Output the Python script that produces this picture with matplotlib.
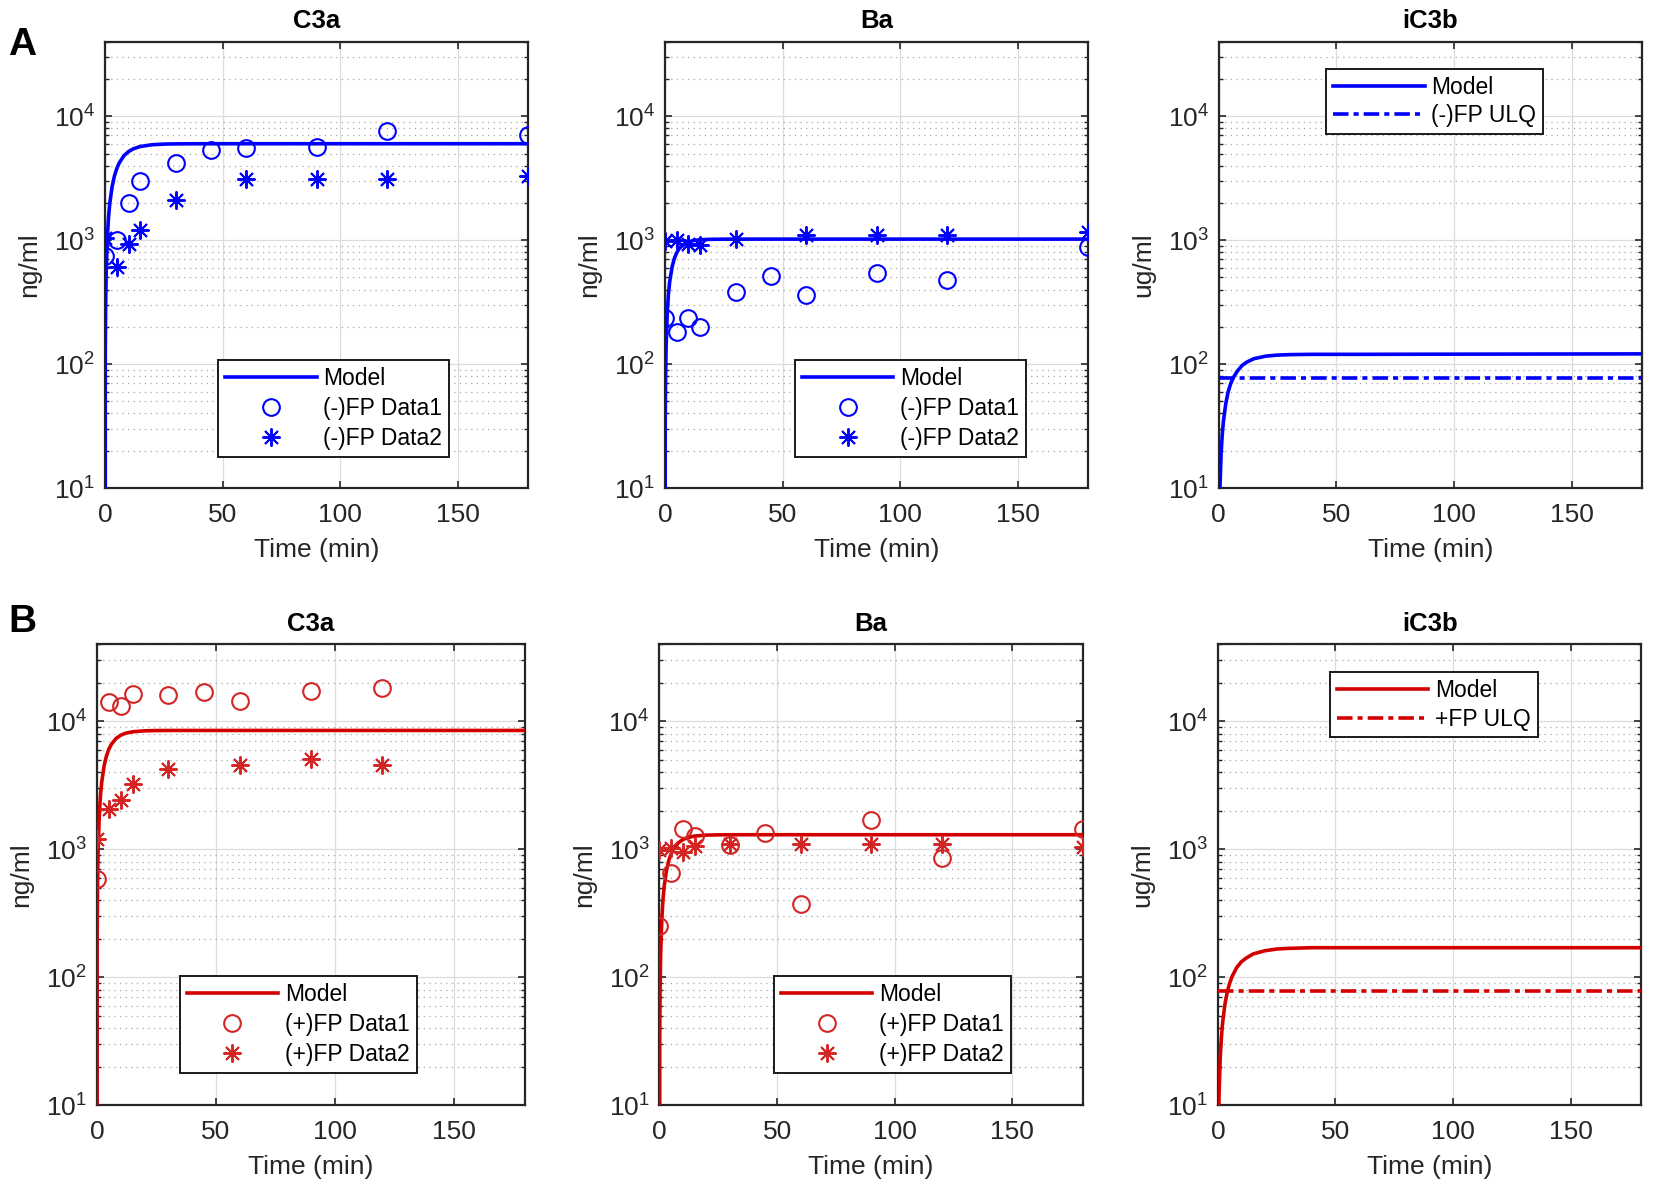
import matplotlib.pyplot as plt
import numpy as np
from matplotlib.ticker import LogLocator, NullFormatter, FixedLocator

plt.rcParams['font.family'] = ['Liberation Sans', 'DejaVu Sans']
plt.rcParams['mathtext.fontset'] = 'custom'
plt.rcParams['mathtext.rm'] = 'Liberation Sans'
plt.rcParams['mathtext.it'] = 'Liberation Sans:italic'
plt.rcParams['mathtext.bf'] = 'Liberation Sans:bold'

# model time grid (min)
t_model = [0, 0.1, 0.25, 0.5, 1, 1.5, 2, 3, 4, 5, 6, 8, 10, 12, 15, 20, 25, 30, 40, 60, 180]

# ---- A: (-)FP ----
c3a_neg_model = [0, 120, 296, 571, 1088, 1555, 1978, 2707, 3304, 3793, 4193, 4797, 5188, 5459,
                 5701, 5890, 5960, 5985, 5998, 6000, 6000]
c3a_neg_t1 = [0, 5, 10, 15, 30, 45, 60, 90, 120, 180]
c3a_neg_d1 = [750, 1000, 2000, 3000, 4200, 5350, 5500, 5600, 7600, 7000]
c3a_neg_t2 = [0, 5, 10, 15, 30, 60, 90, 120, 180]
c3a_neg_d2 = [1050, 610, 940, 1210, 2100, 3100, 3100, 3100, 3270]

ba_neg_model = [0, 30, 73, 141, 264, 371, 460, 605, 713, 792, 854, 929, 969, 992,
                1009, 1017, 1019, 1020, 1020, 1020, 1020]
ba_neg_t1 = [0, 5, 10, 15, 30, 45, 60, 90, 120, 180]
ba_neg_d1 = [235, 180, 235, 200, 385, 515, 360, 540, 480, 880]
ba_neg_t2 = [0, 5, 10, 15, 30, 60, 90, 120, 180]
ba_neg_d2 = [980, 1000, 940, 910, 1030, 1110, 1110, 1110, 1170]

ic3b_neg_model = [0, 2.0, 5.0, 9.8, 18.8, 27.0, 34.6, 48.0, 59.7, 68.9, 76.8, 88.3, 97.8, 104.0,
                  110.7, 116.0, 118.3, 119.3, 120, 120, 121]
ulq_neg = 78

# ---- B: (+)FP ----
c3a_pos_model = [0, 210, 517, 1000, 1880, 2660, 3345, 4485, 5373, 6060, 6600, 7350, 7800, 8080,
                 8300, 8440, 8485, 8496, 8500, 8500, 8500]
c3a_pos_t1 = [0, 5, 10, 15, 30, 45, 60, 90, 120]
c3a_pos_d1 = [590, 14300, 13100, 16400, 16100, 17000, 14500, 17200, 18400]
c3a_pos_t2 = [0, 5, 10, 15, 30, 60, 90, 120]
c3a_pos_d2 = [1200, 2070, 2440, 3260, 4220, 4550, 5110, 4550]

ba_pos_model = [0, 32, 79, 153, 288, 407, 512, 686, 822, 927, 1010, 1124, 1193, 1235,
                1270, 1291, 1297, 1299, 1300, 1300, 1300]
ba_pos_t1 = [0, 5, 10, 15, 30, 45, 60, 90, 120, 180]
ba_pos_d1 = [250, 655, 1450, 1280, 1090, 1340, 375, 1690, 860, 1450]
ba_pos_t2 = [0, 5, 10, 15, 30, 60, 90, 120, 180]
ba_pos_d2 = [990, 1030, 960, 1070, 1100, 1100, 1100, 1100, 1050]

ic3b_pos_model = [0, 2.5, 6.3, 12.3, 23.7, 34.0, 44.1, 61.5, 76.7, 89.7, 101, 119, 132, 141,
                  152, 161, 166, 168, 170, 170, 170]
ulq_pos = 78

BLUE = '#0000ff'
RED = '#d40000'
RED_MK = '#d42525'
ASTER = (8, 2, 0)
DASHDOT = (0, (4.3, 1.4, 1.4, 1.4))
FS = 19


def style_axes(ax, title, ylabel):
    ax.set_yscale('log', nonpositive='clip')
    ax.set_xlim(0, 180)
    ax.set_ylim(10, 4e4)
    ax.set_xticks([0, 50, 100, 150])
    ax.yaxis.set_major_locator(FixedLocator([10, 100, 1000, 10000]))
    ax.yaxis.set_minor_locator(LogLocator(base=10, subs=np.arange(2, 10)))
    ax.yaxis.set_minor_formatter(NullFormatter())
    ax.grid(True, which='major', color='#dcdcdc', lw=0.9, ls='-', zorder=0)
    ax.grid(True, which='minor', axis='y', color='#a8a8a8', lw=0.9, ls=(0, (1, 3.5)), zorder=0)
    ax.set_axisbelow(True)
    ax.tick_params(which='both', direction='in', top=True, right=True, labelsize=FS,
                   colors='#262626', labelcolor='#262626')
    ax.tick_params(which='major', length=5, width=1.2)
    ax.tick_params(axis='x', which='major', pad=11)
    ax.tick_params(axis='y', which='major', pad=7)
    ax.tick_params(which='minor', length=3, width=1.0)
    for s in ax.spines.values():
        s.set_color('#262626')
        s.set_linewidth(1.6)
    ax.set_title(title, fontsize=18.5, fontweight='bold', pad=10)
    ax.set_ylabel(ylabel, fontsize=FS, color='#262626', labelpad=9)
    ax.set_xlabel('Time (min)', fontsize=FS, color='#262626', labelpad=8)


def data_panel(ax, title, model, t1, d1, t2, d2, color, mcolor, tag, leg_x):
    ax.plot(t_model, model, color=color, lw=2.6, label='Model', zorder=3)
    ax.plot(t1, d1, ls='none', marker='o', ms=12, mfc='none', mec=mcolor, mew=1.5,
            label=f'{tag}FP Data1', zorder=4)
    ax.plot(t2, d2, ls='none', marker=ASTER, ms=13, mec=mcolor, mfc=mcolor, mew=1.4,
            label=f'{tag}FP Data2', zorder=4)
    style_axes(ax, title, 'ng/ml')
    ax.legend(loc='lower center', bbox_to_anchor=(leg_x, 0.045), fontsize=16.5,
              handlelength=4.0, handletextpad=0.3, labelspacing=0.3, borderpad=0.3,
              fancybox=False, framealpha=1, edgecolor='#1a1a1a').get_frame().set_linewidth(1.4)


def ulq_panel(ax, model, ulq, color, ulq_label):
    ax.plot(t_model, model, color=color, lw=2.6, label='Model', zorder=3)
    ax.axhline(ulq, color=color, lw=2.6, ls=DASHDOT, label=ulq_label, zorder=3)
    style_axes(ax, 'iC3b', 'ug/ml')
    ax.legend(loc='upper center', bbox_to_anchor=(0.51, 0.965), fontsize=16.5,
              handlelength=4.0, handletextpad=0.3, labelspacing=0.25, borderpad=0.3,
              fancybox=False, framealpha=1, edgecolor='#1a1a1a').get_frame().set_linewidth(1.4)


fig = plt.figure(figsize=(16.57, 11.89), dpi=100)

w = 0.2555
rowA_y, rowA_h = 0.5895, 0.3755
rowB_y, rowB_h = 0.0706, 0.3874

axA1 = fig.add_axes([0.0634, rowA_y, w, rowA_h])
axA2 = fig.add_axes([0.4013, rowA_y, w, rowA_h])
axA3 = fig.add_axes([0.7355, rowA_y, w, rowA_h])
axB1 = fig.add_axes([0.0585, rowB_y, w + 0.003, rowB_h])
axB2 = fig.add_axes([0.3980, rowB_y, w, rowB_h])
axB3 = fig.add_axes([0.7350, rowB_y, w, rowB_h])

data_panel(axA1, 'C3a', c3a_neg_model, c3a_neg_t1, c3a_neg_d1, c3a_neg_t2, c3a_neg_d2,
           BLUE, BLUE, '(-)', 0.54)
data_panel(axA2, 'Ba', ba_neg_model, ba_neg_t1, ba_neg_d1, ba_neg_t2, ba_neg_d2,
           BLUE, BLUE, '(-)', 0.58)
ulq_panel(axA3, ic3b_neg_model, ulq_neg, BLUE, '(-)FP ULQ')

data_panel(axB1, 'C3a', c3a_pos_model, c3a_pos_t1, c3a_pos_d1, c3a_pos_t2, c3a_pos_d2,
           RED, RED_MK, '(+)', 0.47)
data_panel(axB2, 'Ba', ba_pos_model, ba_pos_t1, ba_pos_d1, ba_pos_t2, ba_pos_d2,
           RED, RED_MK, '(+)', 0.55)
ulq_panel(axB3, ic3b_pos_model, ulq_pos, RED, '+FP ULQ')

fig.text(0.005, 0.962, 'A', fontsize=28, fontweight='bold', va='center', ha='left')
fig.text(0.005, 0.477, 'B', fontsize=28, fontweight='bold', va='center', ha='left')

fig.savefig('out.png', dpi=100)
